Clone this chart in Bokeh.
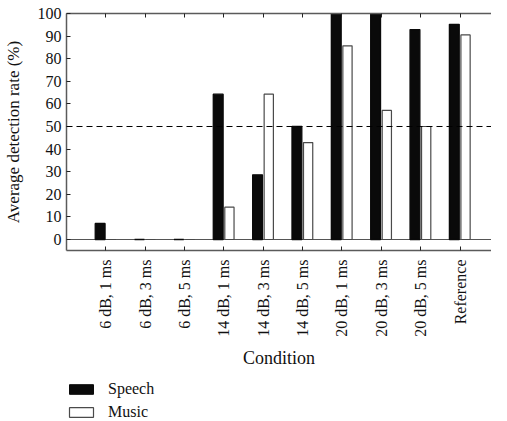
import math
from bokeh.plotting import figure
from bokeh.layouts import column
from bokeh.models import (ColumnDataSource, FixedTicker, Span, LinearAxis,
                          Legend, LegendItem, Range1d)
from bokeh.transform import dodge
from bokeh.embed import file_html
from bokeh.resources import INLINE

conditions = ["6 dB, 1 ms", "6 dB, 3 ms", "6 dB, 5 ms",
              "14 dB, 1 ms", "14 dB, 3 ms", "14 dB, 5 ms",
              "20 dB, 1 ms", "20 dB, 3 ms", "20 dB, 5 ms", "Reference"]
speech = [7.1, 0, 0, 64.3, 28.6, 50, 100, 100, 92.9, 95.2]
music = [0, 0, 0, 14.3, 64.3, 42.9, 85.7, 57.1, 50, 90.5]
y_ticks = [0, 10, 20, 30, 40, 50, 60, 70, 80, 90, 100]
chance_level = 50
series_names = ["Speech", "Music"]

positions = list(range(1, len(conditions) + 1))
FONT = "Liberation Serif"
AXIS_COLOR = "#5a5a5a"
SPEECH_FILL = "#0a0a0a"
MUSIC_LINE = "#4a4a4a"

source = ColumnDataSource(dict(x=positions, speech=speech, music=music))

p = figure(width=491, height=377,
           x_range=Range1d(0, 10.8), y_range=Range1d(-4.87, 100),
           output_backend="svg", toolbar_location=None,
           min_border_left=59, min_border_top=13, min_border_right=0,
           min_border_bottom=127)
p.outline_line_color = None
p.xgrid.visible = False
p.ygrid.visible = False
p.background_fill_color = "white"
p.border_fill_color = "white"

p.add_layout(Span(location=0, dimension='width', line_color="#555555",
                  line_width=1.2, level="underlay"))

p.vbar(x=dodge('x', -0.145, range=p.x_range), top='speech', width=0.25,
       source=source, fill_color=SPEECH_FILL, line_color=SPEECH_FILL, line_width=1.3)
p.vbar(x=dodge('x', 0.14, range=p.x_range), top='music', width=0.235,
       source=source, fill_color="white", line_color=MUSIC_LINE, line_width=1.2)

p.add_layout(Span(location=chance_level, dimension='width', line_color="black",
                  line_width=1.1, line_dash="6 4"))

# bottom axis
xa = p.xaxis[0]
xa.ticker = FixedTicker(ticks=positions)
xa.major_label_overrides = {pos: lab for pos, lab in zip(positions, conditions)}
xa.major_label_orientation = math.pi / 2
xa.major_label_text_font = FONT
xa.major_label_text_font_size = "16px"
xa.major_label_text_color = "#111111"
xa.major_label_standoff = 9
xa.major_tick_in = 4
xa.major_tick_out = 0
xa.minor_tick_line_color = None
xa.axis_line_color = AXIS_COLOR
xa.axis_line_width = 1.5
xa.major_tick_line_color = "#222222"
xa.axis_label = "Condition"
xa.axis_label_text_font = FONT
xa.axis_label_text_font_style = "normal"
xa.axis_label_text_font_size = "18px"
xa.axis_label_text_color = "#111111"
xa.axis_label_standoff = 8

# left axis
ya = p.yaxis[0]
ya.ticker = FixedTicker(ticks=y_ticks)
ya.major_label_text_font = FONT
ya.major_label_text_font_size = "16px"
ya.major_label_text_color = "#111111"
ya.major_label_standoff = 5
ya.major_tick_in = 4
ya.major_tick_out = 0
ya.minor_tick_line_color = None
ya.axis_line_color = AXIS_COLOR
ya.axis_line_width = 1.5
ya.major_tick_line_color = "#222222"
ya.axis_label = "Average detection rate (%)"
ya.axis_label_text_font = FONT
ya.axis_label_text_font_style = "normal"
ya.axis_label_text_font_size = "17px"
ya.axis_label_text_color = "#111111"
ya.axis_label_standoff = 12

# top border with ticks
ta = LinearAxis(ticker=FixedTicker(ticks=positions))
ta.major_label_overrides = {pos: "" for pos in positions}
ta.major_label_text_font_size = "1px"
ta.major_label_standoff = 0
ta.major_tick_in = 4
ta.major_tick_out = 0
ta.minor_tick_line_color = None
ta.axis_line_color = AXIS_COLOR
ta.axis_line_width = 1.5
ta.major_tick_line_color = "#222222"
p.add_layout(ta, "above")

# legend strip below the chart (its frame is aligned with the chart's frame)
lf = figure(width=491, height=44, x_range=Range1d(0, 1), y_range=Range1d(0, 1),
            output_backend="svg", toolbar_location=None,
            x_axis_type=None, y_axis_type=None,
            min_border_left=0, min_border_right=0, min_border_top=0, min_border_bottom=0)
lf.outline_line_color = None
lf.xgrid.visible = False
lf.ygrid.visible = False
lf.border_fill_color = "white"
lf.background_fill_color = "white"
leg_src = ColumnDataSource(dict(x=positions[:1], speech=speech[:1], music=music[:1]))
r_speech = lf.vbar(x='x', top='speech', width=0.25, source=leg_src,
                   fill_color=SPEECH_FILL, line_color=SPEECH_FILL, visible=False)
r_music = lf.vbar(x='x', top='music', width=0.235, source=leg_src,
                  fill_color="white", line_color=MUSIC_LINE, line_width=1.2, visible=False)

legend = Legend(items=[LegendItem(label=series_names[0], renderers=[r_speech]),
                       LegendItem(label=series_names[1], renderers=[r_music])],
                location=(0, 0), orientation="vertical")
legend.border_line_color = None
legend.background_fill_alpha = 0
legend.inactive_fill_alpha = 0
legend.padding = 0
legend.margin = 0
legend.spacing = 5
legend.glyph_width = 30
legend.glyph_height = 12
legend.label_standoff = 12
legend.label_text_font = FONT
legend.label_text_font_size = "16px"
legend.label_text_color = "#111111"
legend.label_height = 14
lf.add_layout(legend, "center")

layout = column(p, lf, spacing=0)
open("out.html", "w").write(file_html(layout, INLINE))
